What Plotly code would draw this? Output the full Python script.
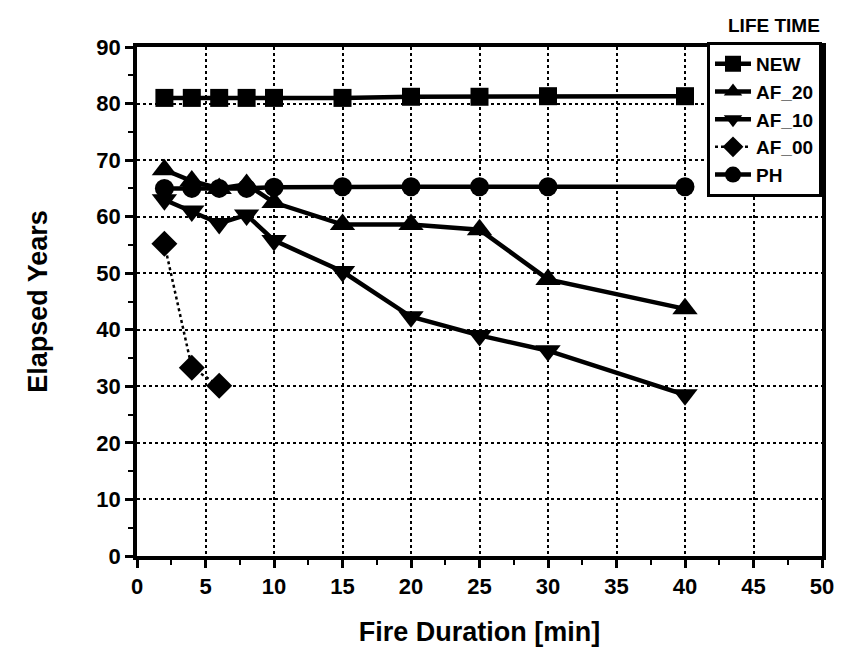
import plotly.graph_objects as go

x_main = [2, 4, 6, 8, 10, 15, 20, 25, 30, 40]
new_vals = [81, 81, 81, 81, 81, 81, 81.2, 81.2, 81.3, 81.3]
af20_vals = [68.3, 66.3, 65.0, 65.7, 62.5, 58.6, 58.6, 57.7, 48.9, 43.7]
af10_vals = [63.0, 61.0, 58.8, 60.3, 55.8, 50.3, 42.3, 39.0, 36.3, 28.5]
x_af00 = [2, 4, 6]
af00_vals = [55.2, 33.3, 30.1]
ph_vals = [65, 65, 65, 65, 65.2, 65.3, 65.3, 65.3, 65.3, 65.3]

series = [
    ("NEW", x_main, new_vals, "square", "solid", 4.5, 18),
    ("AF_20", x_main, af20_vals, "triangle-up", "solid", 4.5, 22),
    ("AF_10", x_main, af10_vals, "triangle-down", "solid", 4.5, 22),
    ("AF_00", x_af00, af00_vals, "diamond", "dot", 2.5, 20),
    ("PH", x_main, ph_vals, "circle", "solid", 4.5, 19),
]

fig = go.Figure()
for name, xs, ys, sym, dash, w, ms in series:
    fig.add_trace(go.Scatter(
        x=xs, y=ys, name=name, mode="lines+markers",
        line=dict(color="black", width=w, dash=dash),
        marker=dict(symbol=sym, size=ms, color="black"),
    ))

font_fam = "Liberation Sans"
axis_common = dict(
    showline=True, linecolor="black", linewidth=3.5, mirror=True,
    showgrid=True, gridcolor="black", gridwidth=1.8, griddash="dot",
    ticks="outside", tickwidth=2.5, ticklen=8, tickcolor="black",
    zeroline=False,
    tickfont=dict(family=font_fam, size=22, color="black", weight="bold"),
)
fig.update_xaxes(
    range=[0, 50], dtick=5, tick0=0,
    minor=dict(dtick=2.5, ticks="outside", ticklen=5, tickwidth=2, tickcolor="black", showgrid=False),
    title=dict(text="Fire Duration [min]", font=dict(family=font_fam, size=27, color="black", weight="bold"), standoff=25),
    **axis_common,
)
fig.update_yaxes(
    range=[0, 90], dtick=10, tick0=0,
    minor=dict(dtick=5, ticks="outside", ticklen=5, tickwidth=2, tickcolor="black", showgrid=False),
    title=dict(text="Elapsed Years", font=dict(family=font_fam, size=27, color="black", weight="bold"), standoff=42),
    **axis_common,
)
fig.update_layout(
    width=849, height=655,
    margin=dict(l=137, r=27, t=47, b=97),
    paper_bgcolor="white", plot_bgcolor="white",
    showlegend=True,
    legend=dict(
        x=1.0, y=1.01, xanchor="right", yanchor="top",
        bgcolor="white", bordercolor="black", borderwidth=3,
        font=dict(family=font_fam, size=19, color="black", weight="bold"),
        itemwidth=36, tracegroupgap=0, itemsizing="trace",
    ),
    annotations=[dict(
        text="LIFE TIME", x=1.0, y=1.017, xref="paper", yref="paper",
        xanchor="right", yanchor="bottom", showarrow=False,
        font=dict(family=font_fam, size=19, color="black", weight="bold"),
    )],
)
fig.write_html("out.html")
